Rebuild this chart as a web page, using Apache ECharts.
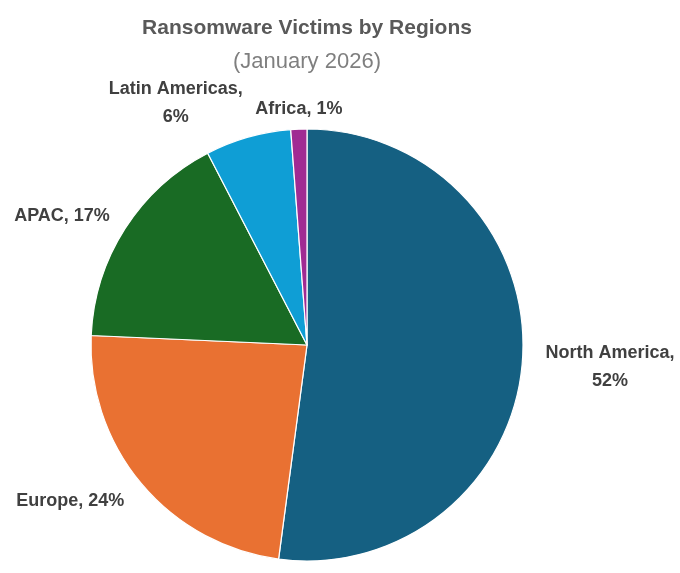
<!DOCTYPE html>
<html>
<head>
<meta charset="utf-8">
<script src="https://cdn.jsdelivr.net/npm/echarts@6/dist/echarts.min.js"></script>
<style>
html,body{margin:0;padding:0;background:#fff;}
#chart{width:680px;height:573px;}
</style>
</head>
<body>
<div id="chart"></div>
<script>
const categories = ['North America', 'Europe', 'APAC', 'Latin Americas', 'Africa'];
const values = [52.1, 23.6, 16.7, 6.4, 1.2];
const wrapLabel = [true, false, false, true, false];
const colors = ['#156082', '#E97132', '#196B24', '#0F9ED5', '#A02B93'];
const titleText = 'Ransomware Victims by Regions';
const subtitleText = '(January 2026)';

const chart = echarts.init(document.getElementById('chart'));
const fontFamily = '"Liberation Sans", "Noto Sans", sans-serif';
const labelNudge = [[0, 7], [3, 10], [6, -6], [9, -23], [55, -8]];

chart.setOption({
  animation: false,
  title: {
    text: titleText,
    subtext: subtitleText,
    left: 302,
    textAlign: 'center',
    top: 13,
    itemGap: 12,
    textStyle: { fontFamily, fontSize: 21, fontWeight: 'bold', color: '#595959' },
    subtextStyle: { fontFamily, fontSize: 22, color: '#7f7f7f' }
  },
  series: [{
    type: 'pie',
    center: [307, 345],
    radius: 216,
    startAngle: 90,
    clockwise: true,
    avoidLabelOverlap: false,
    minShowLabelAngle: 0,
    itemStyle: { borderColor: '#ffffff', borderWidth: 1.2 },
    label: {
      show: true,
      position: 'outside',
      fontFamily,
      fontSize: 18,
      fontWeight: 'bold',
      color: '#404040',
      lineHeight: 28,
      formatter: function (p) {
        const pct = Math.round(p.percent) + '%';
        return wrapLabel[p.dataIndex] ? '{c|' + p.name + ',}\n{c|' + pct + '}' : '{c|' + p.name + ', ' + pct + '}';
      },
      rich: { c: { align: 'center', fontFamily, fontSize: 18, fontWeight: 'bold', color: '#404040', lineHeight: 28 } }
    },
    labelLayout: function (p) {
      const n = labelNudge[p.dataIndex];
      return { hideOverlap: false, moveOverlap: null, dx: n[0], dy: n[1] };
    },
    labelLine: { show: false, length: 12, length2: 6 },
    data: categories.map((c, i) => ({ name: c, value: values[i], itemStyle: { color: colors[i] } }))
  }]
});
</script>
</body>
</html>
